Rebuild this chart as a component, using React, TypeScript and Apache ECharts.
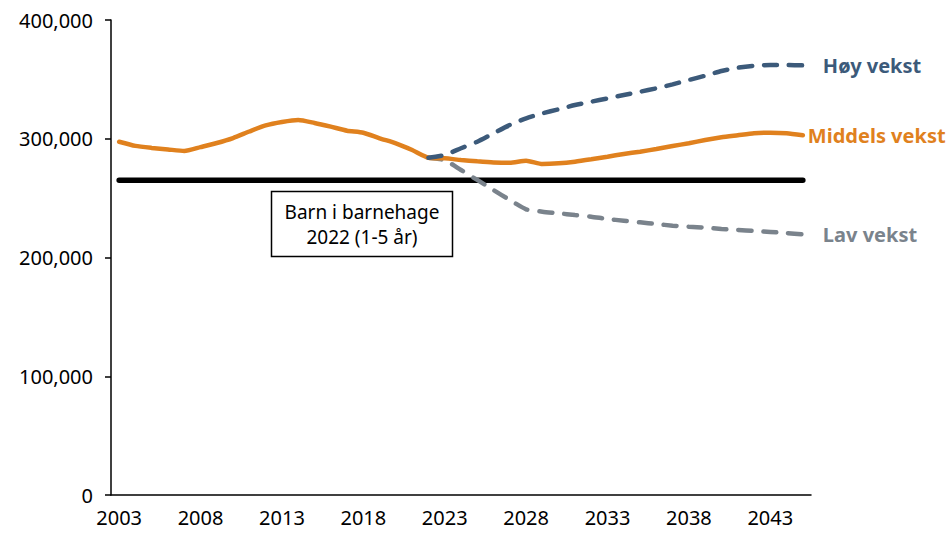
import React, { useEffect, useRef } from "react";
import * as echarts from "echarts";

const years: string[] = [];
for (let y = 2003; y <= 2045; y++) years.push(String(y));

// Middels vekst 2003–2045
const middels = [
  297500, 294000, 292300, 291000, 289700, 293000, 296400, 300600, 306100, 311200,
  314100, 315800, 313300, 310200, 306800, 305100, 300400, 296200, 290500, 284000,
  283500, 282100, 281000, 280100, 279800, 281500, 278700, 279300, 280700, 282700,
  284900, 287200, 289100, 291400, 293900, 296200, 298900, 301200, 302900, 304600,
  305100, 304600, 302900,
];

// Høy vekst 2022–2045 (earlier years empty)
const hoyProj = [
  284000, 286300, 292000, 297500, 304600, 311600, 317200, 321400, 324800, 328400,
  331200, 334000, 336800, 339600, 342500, 345800, 349500, 353100, 357100, 359800,
  361500, 362100, 362100, 361800,
];

// Lav vekst 2022–2045
const lavProj = [
  284000, 282000, 273700, 265300, 256800, 248400, 240600, 238600, 237200, 235800,
  234400, 232400, 231000, 229600, 228200, 226800, 225900, 225100, 224000, 223200,
  222300, 221500, 220600, 219500,
];

const barnehage2022 = 265000;
const boxLines = ["Barn i barnehage", "2022 (1-5 år)"];

const yTicks = [0, 100000, 200000, 300000, 400000];

const FONT = "'Noto Sans', sans-serif";

export default function App() {
  const ref = useRef<HTMLDivElement>(null);
  useEffect(() => {
    if (!ref.current) return;
    const chart = echarts.init(ref.current, undefined, { renderer: "svg" });
    const pad = (arr: number[]) =>
      Array(years.length - arr.length).fill(null).concat(arr);
    const hoy = pad(hoyProj);
    const lav = pad(lavProj);
    const black = years.map(() => barnehage2022);

    chart.setOption({
      animation: false,
      backgroundColor: "#ffffff",
      grid: { left: 111, right: 138, top: 20, bottom: 45 },
      xAxis: {
        type: "category",
        data: years,
        boundaryGap: true,
        axisLine: { lineStyle: { color: "#000", width: 1.5 } },
        axisTick: { interval: 4, length: 6, lineStyle: { color: "#000", width: 1.5 } },
        axisLabel: {
          interval: 4,
          color: "#000",
          fontFamily: FONT,
          fontSize: 20,
          margin: 12,
        },
        splitLine: { show: false },
      },
      yAxis: {
        type: "value",
        min: yTicks[0],
        max: yTicks[yTicks.length - 1],
        interval: 100000,
        axisLine: { show: true, lineStyle: { color: "#000", width: 1.5 } },
        axisTick: { show: true, length: 6, lineStyle: { color: "#000", width: 1.5 } },
        axisLabel: {
          color: "#000",
          fontFamily: FONT,
          fontSize: 20,
          margin: 18,
          formatter: (v: number) => v.toLocaleString("en-US"),
        },
        splitLine: { show: false },
      },
      graphic: [
        {
          type: "rect",
          shape: { x: 271.5, y: 191.5, width: 181, height: 65 },
          style: { fill: "#fff", stroke: "#000", lineWidth: 1.5 },
          z: 1,
        },
        ...boxLines.map((t, i) => ({
          type: "text",
          x: 362,
          y: 212 + i * 25,
          style: {
            text: t,
            fill: "#000",
            font: `19px ${FONT}`,
            align: "center",
            verticalAlign: "middle",
          },
          z: 2,
        })),
      ],
      series: [
        {
          name: "Barn i barnehage",
          type: "line",
          data: black,
          symbol: "none",
          lineStyle: { color: "#000", width: 5.5, cap: "round" },
          z: 3,
        },
        {
          name: "Lav vekst",
          type: "line",
          data: lav,
          symbol: "none",
          smooth: 0.2,
          lineStyle: { color: "#7a838c", width: 4.5, type: [13, 12], cap: "round" },
          endLabel: {
            show: true,
            formatter: "{a}",
            distance: 20,
            color: "#7a838c",
            fontFamily: FONT,
            fontWeight: "bold",
            fontSize: 20,
          },
          z: 4,
        },
        {
          name: "Middels vekst",
          type: "line",
          data: middels,
          symbol: "none",
          smooth: 0.2,
          lineStyle: { color: "#e0811e", width: 4.5, cap: "round" },
          endLabel: {
            show: true,
            formatter: "{a}",
            distance: 5,
            color: "#e0811e",
            fontFamily: FONT,
            fontWeight: "bold",
            fontSize: 20,
          },
          z: 5,
        },
        {
          name: "Høy vekst",
          type: "line",
          data: hoy,
          symbol: "none",
          smooth: 0.2,
          lineStyle: { color: "#3c5a7a", width: 4.5, type: [13, 12], cap: "round" },
          endLabel: {
            show: true,
            formatter: "{a}",
            distance: 20,
            color: "#3c5a7a",
            fontFamily: FONT,
            fontWeight: "bold",
            fontSize: 20,
          },
          z: 6,
        },
      ],
    });
    return () => chart.dispose();
  }, []);

  return (
    <div
      ref={ref}
      style={{ position: "fixed", left: 0, top: 0, width: 949, height: 540 }}
    />
  );
}
